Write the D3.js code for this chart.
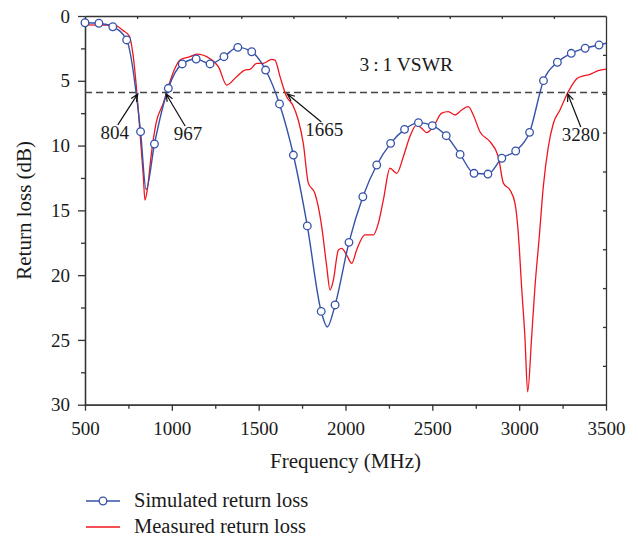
<!DOCTYPE html>
<meta charset="utf-8">
<style>
body { margin: 0; background: #fff; }
text { font-family: "Liberation Serif", "Times New Roman", serif; fill: #1a1a1a; }
.axis path, .axis line { stroke: #333; stroke-width: 1.3; fill: none; }
.axis text { font-size: 19px; fill: #1a1a1a; }
.sim { fill: none; stroke: #3552a8; stroke-width: 1.4; }
.meas { fill: none; stroke: #f0151d; stroke-width: 1.3; }
.dot { fill: #fff; stroke: #3552a8; stroke-width: 1.3; }
.vswr { stroke: #444; stroke-width: 1.5; stroke-dasharray: 7,4; }
.arrow { stroke: #111; stroke-width: 1.2; fill: none; }
</style>
<body>
<div id="chart"></div>
<script src="https://d3js.org/d3.v7.min.js"></script>
<script>

// simulated return loss (dB) -- circles on the 80 MHz grid, plus the two dips
var simFreq = [500, 580, 660, 740, 820, 852, 900, 980, 1060, 1140, 1220, 1300, 1380, 1460, 1540,
  1620, 1700, 1780, 1860, 1895, 1940, 2020, 2100, 2180, 2260, 2340, 2420, 2500, 2580, 2660,
  2740, 2820, 2900, 2980, 3060, 3140, 3220, 3300, 3380, 3460, 3500];
var simLoss = [0.52, 0.56, 0.83, 1.85, 8.93, 13.4, 9.88, 5.58, 3.70, 3.32, 3.70, 3.14, 2.42, 2.76, 4.17,
  6.79, 10.73, 16.2, 22.8, 24.0, 22.3, 17.47, 13.95, 11.5, 9.83, 8.75, 8.23, 8.46, 9.24, 10.68,
  12.14, 12.2, 10.98, 10.42, 8.98, 4.99, 3.57, 2.88, 2.49, 2.24, 2.1];
// points of the simulated curve that carry a circle
var simMarkers = [500, 580, 660, 740, 820, 900, 980, 1060, 1140, 1220, 1300, 1380, 1460, 1540,
  1620, 1700, 1780, 1860, 1940, 2020, 2100, 2180, 2260, 2340, 2420, 2500, 2580, 2660,
  2740, 2820, 2900, 2980, 3060, 3140, 3220, 3300, 3380, 3460];

// measured return loss (dB)
var measFreq = [500, 580, 663, 720, 755, 778, 794, 807, 821, 836, 845, 861, 880, 909, 951, 989,
  1018, 1047, 1105, 1143, 1220, 1268, 1316, 1373, 1421, 1450, 1489, 1527, 1575, 1594, 1623,
  1661, 1696, 1728, 1757, 1786, 1824, 1843, 1863, 1892, 1911, 1930, 1959, 1978, 2007, 2036,
  2064, 2112, 2160, 2189, 2218, 2256, 2295, 2333, 2371, 2410, 2439, 2467, 2506, 2554, 2592,
  2630, 2669, 2707, 2736, 2774, 2832, 2880, 2909, 2947, 2976, 2995, 3014, 3033, 3049, 3072,
  3091, 3116, 3139, 3168, 3197, 3235, 3283, 3335, 3369, 3408, 3455, 3500];
var measLoss = [0.69, 0.70, 0.69, 1.13, 1.54, 3.14, 5.2, 7.25, 9.8, 12.4, 14.2, 13.2, 10.86, 8.28, 6.74, 5.07,
  4.04, 3.4, 3.14, 2.95, 3.3, 3.9, 5.33, 4.68, 4.17, 4.12, 3.65, 3.65, 3.34, 3.4, 4.68,
  6.23, 6.87, 8.03, 9.83, 12.9, 13.7, 14.7, 16.26, 19.35, 21.15, 20.4, 18.06, 17.93, 18.45, 19.09,
  18.06, 16.9, 16.9, 16.0, 14.2, 11.75, 12.14, 10.86, 9.3, 8.41, 8.67, 9.0, 8.54, 7.5, 7.38,
  7.64, 7.25, 7.0, 7.64, 8.93, 9.7, 10.86, 12.9, 13.43, 14.46, 16.77, 20.9, 24.75, 29.0, 24.75,
  20.9, 17.0, 13.17, 10.09, 8.28, 7.25, 5.84, 4.81, 4.63, 4.5, 4.22, 4.1];

// 3:1 VSWR level and the marked band edges
var vswrLevel = 5.9;
var vswrLabel = "3\u2009:\u20091 VSWR";
var edgeFreq = [804, 967, 1665, 3280];

// ticks
var xMajor = [500, 1000, 1500, 2000, 2500, 3000, 3500];
var xMinor = [750, 1250, 1750, 2250, 2750, 3250];
var xTop = [800, 1100, 1400, 1700, 2000, 2300, 2600, 2900, 3200];
var yMajor = [0, 5, 10, 15, 20, 25, 30];
var yMinor = [2.5, 7.5, 12.5, 17.5, 22.5, 27.5];
var yRight = [3, 6, 9, 12, 15, 18, 21, 24, 27];

var seriesNames = ["Simulated return loss", "Measured return loss"];

var W = 638, H = 538;
var plotL = 85, plotR = 606, plotT = 16, plotB = 404.7;

var svg = d3.select("#chart").append("svg")
    .attr("width", W)
    .attr("height", H);

var x = d3.scaleLinear().domain([500, 3500]).range([plotL, plotR]);
var y = d3.scaleLinear().domain([0, 30]).range([plotT, plotB]);
var fmt = d3.format("d");

// axes
svg.append("g").attr("class", "axis")
    .attr("transform", "translate(0," + plotB + ")")
    .call(d3.axisBottom(x).tickValues(xMajor).tickSize(6).tickSizeOuter(0).tickFormat(fmt))
    .selectAll("text").attr("dy", null).attr("y", 30);
svg.append("g").attr("class", "axis")
    .attr("transform", "translate(0," + plotB + ")")
    .call(d3.axisBottom(x).tickValues(xMinor).tickSize(4).tickSizeOuter(0).tickFormat(""));
svg.append("g").attr("class", "axis")
    .attr("transform", "translate(" + plotL + ",0)")
    .call(d3.axisLeft(y).tickValues(yMajor).tickSize(7).tickSizeOuter(0).tickPadding(8).tickFormat(fmt));
svg.append("g").attr("class", "axis")
    .attr("transform", "translate(" + plotL + ",0)")
    .call(d3.axisLeft(y).tickValues(yMinor).tickSize(4).tickSizeOuter(0).tickFormat(""));
svg.append("g").attr("class", "axis")
    .attr("transform", "translate(0," + plotT + ")")
    .call(d3.axisTop(x).tickValues(xTop).tickSize(-3).tickSizeOuter(0).tickFormat(""));
svg.append("g").attr("class", "axis")
    .attr("transform", "translate(" + plotR + ",0)")
    .call(d3.axisRight(y).tickValues(yRight).tickSize(-3).tickSizeOuter(0).tickFormat(""));

// axis titles
svg.append("text")
    .attr("x", (plotL + plotR) / 2)
    .attr("y", 468)
    .attr("text-anchor", "middle")
    .style("font-size", "21px")
    .text("Frequency (MHz)");
svg.append("text")
    .attr("transform", "translate(31," + (plotT + plotB) / 2 + ") rotate(-90)")
    .attr("text-anchor", "middle")
    .style("font-size", "21px")
    .text("Return loss (dB)");

// vswr line
svg.append("line")
    .attr("class", "vswr")
    .attr("x1", x(500)).attr("x2", x(3500))
    .attr("y1", y(vswrLevel)).attr("y2", y(vswrLevel));
svg.append("text")
    .attr("x", x(2350))
    .attr("y", 71)
    .attr("text-anchor", "middle")
    .style("font-size", "19.5px")
    .text(vswrLabel);

// curves
var sim = simFreq.map(function(f, i) { return {f: f, v: simLoss[i]}; });
var meas = measFreq.map(function(f, i) { return {f: f, v: measLoss[i]}; });

var line = d3.line()
    .x(function(d) { return x(d.f); })
    .y(function(d) { return y(d.v); })
    .curve(d3.curveMonotoneX);

svg.append("path").datum(meas).attr("class", "meas").attr("d", line);
svg.append("path").datum(sim).attr("class", "sim").attr("d", line);

svg.selectAll(".dot")
    .data(sim.filter(function(d) { return simMarkers.indexOf(d.f) >= 0; }))
    .enter().append("circle")
    .attr("class", "dot")
    .attr("cx", function(d) { return x(d.f); })
    .attr("cy", function(d) { return y(d.v); })
    .attr("r", 3.8);

// band edge arrows (tail offsets and label shifts per label)
var tailDx = [-20, 19, 34, 13];
var tailDy = [31, 32, 28, 33];
var labelDx = [-3, 3, 3, 0];

edgeFreq.forEach(function(f, i) {
  var tx = x(f), ty = y(vswrLevel) + 1.5;
  var sx = tx + tailDx[i], sy = ty + tailDy[i];
  var a = Math.atan2(ty - sy, tx - sx), len = 8, spread = 0.4;
  svg.append("path")
      .attr("class", "arrow")
      .attr("d", "M" + sx + "," + sy + "L" + tx + "," + ty +
        "M" + (tx - len * Math.cos(a - spread)) + "," + (ty - len * Math.sin(a - spread)) +
        "L" + tx + "," + ty +
        "L" + (tx - len * Math.cos(a + spread)) + "," + (ty - len * Math.sin(a + spread)));
  svg.append("text")
      .attr("x", sx + labelDx[i])
      .attr("y", sy + 14)
      .attr("text-anchor", "middle")
      .style("font-size", "19px")
      .text(f);
});

// legend
var legend = svg.append("g").attr("transform", "translate(86,501)");
seriesNames.forEach(function(name, i) {
  var g = legend.append("g").attr("transform", "translate(0," + i * 26 + ")");
  g.append("line")
      .attr("x1", 0).attr("x2", 34)
      .attr("class", i === 0 ? "sim" : "meas");
  if (i === 0) {
    g.append("circle").attr("class", "dot").attr("cx", 17).attr("cy", 0).attr("r", 3.8);
  }
  g.append("text")
      .attr("x", 48)
      .attr("y", 6)
      .style("font-size", "20.5px")
      .text(name);
});

</script>
</body>
